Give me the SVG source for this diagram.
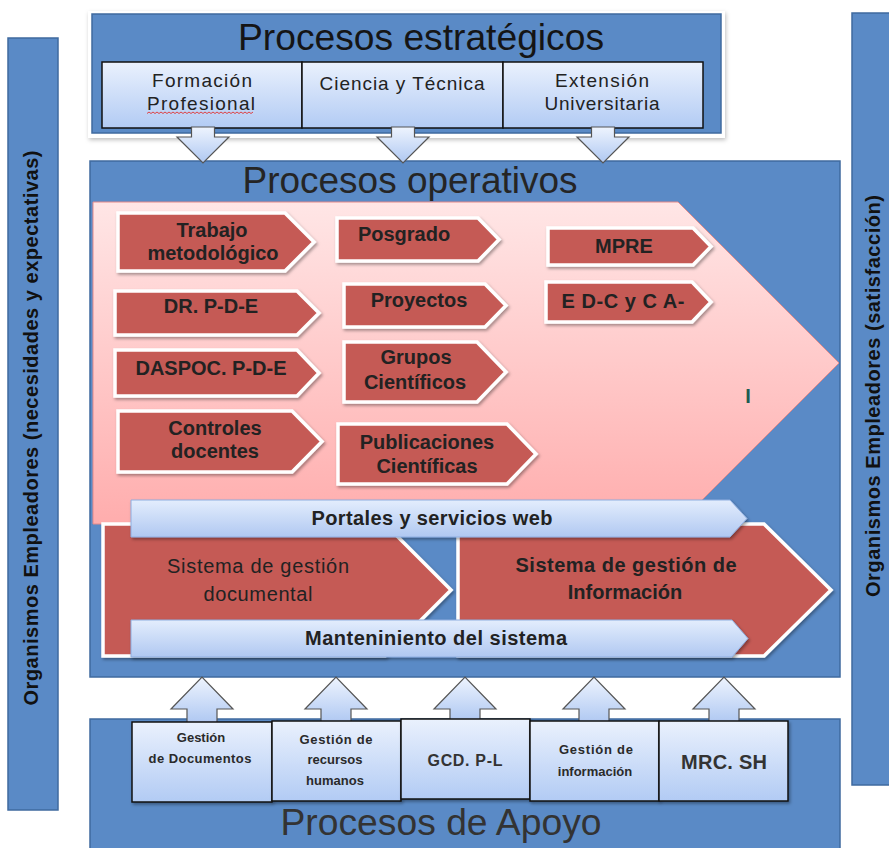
<svg xmlns="http://www.w3.org/2000/svg" width="889" height="848" viewBox="0 0 889 848">
<defs>
<linearGradient id="gBox" x1="0" y1="0" x2="0" y2="1"><stop offset="0" stop-color="#eaf1fd"/><stop offset="1" stop-color="#b2cbf4"/></linearGradient>
<linearGradient id="gArrow" x1="0" y1="0" x2="0" y2="1"><stop offset="0" stop-color="#eef4fe"/><stop offset="1" stop-color="#afc8f2"/></linearGradient>
<linearGradient id="gPink" x1="0" y1="0" x2="0" y2="1"><stop offset="0" stop-color="#ffe6e6"/><stop offset="1" stop-color="#ffadad"/></linearGradient>
<linearGradient id="gBar" x1="0" y1="0" x2="0" y2="1"><stop offset="0" stop-color="#e3edfd"/><stop offset="1" stop-color="#b0c8f1"/></linearGradient>
<filter id="sh" x="-10%" y="-10%" width="125%" height="135%"><feDropShadow dx="1.5" dy="2" stdDeviation="1.5" flood-color="#000" flood-opacity="0.35"/></filter>
<filter id="shL" x="-5%" y="-5%" width="112%" height="115%"><feDropShadow dx="1" dy="2" stdDeviation="2" flood-color="#000" flood-opacity="0.25"/></filter>
</defs>
<style>
.blue{fill:#5a8ac6;stroke:#3f6a9f;stroke-width:1.5}
.sub{fill:url(#gBox);stroke:#111;stroke-width:1.5}
.arr{fill:url(#gArrow);stroke:#555;stroke-width:1.2}
.chev{fill:#c55a55;stroke:#fff;stroke-width:3.5;filter:url(#sh)}
.bar{fill:url(#gBar);stroke:#8eaee0;stroke-width:1;filter:url(#sh)}
.t{font-family:"Liberation Sans",Arial,sans-serif;text-anchor:middle;fill:#222}
.title{font-size:37px;fill:#151515}
.b{font-weight:bold}
.c20{font-size:20px}
.c19{font-size:19px}
.s13{font-size:13px;font-weight:bold;fill:#2a2a2a}
.side{font-size:20px;font-weight:bold;fill:#111}
</style>

<g id="left-bar">
<rect class="blue" x="8" y="38" width="50" height="772"/>
<text class="t side" transform="translate(38,428) rotate(-90)" textLength="555" lengthAdjust="spacing">Organismos Empleadores (necesidades y expectativas)</text>
</g>
<g id="right-bar">
<rect class="blue" x="852" y="13" width="45" height="772"/>
<text class="t side" transform="translate(880,396) rotate(-90)" textLength="402" lengthAdjust="spacing">Organismos Empleadores (satisfacción)</text>
</g>

<g id="estrategicos">
<rect x="88" y="11" width="637" height="127" fill="#fff" filter="url(#shL)"/>
<rect class="blue" x="92" y="14" width="629" height="119"/>
<text class="t title" x="421" y="50" textLength="366" lengthAdjust="spacingAndGlyphs">Procesos estratégicos</text>
</g>
<g id="formacion">
<rect class="sub" x="102" y="62" width="200" height="66"/>
<text class="t c19" x="202" y="87" textLength="100" lengthAdjust="spacing">Formación</text>
<text class="t c19" x="201" y="110" textLength="108" lengthAdjust="spacing">Profesional</text>
<path d="M147,113.5 l2,-1.5 l2,1.5 l2,-1.5 l2,1.5 l2,-1.5 l2,1.5 l2,-1.5 l2,1.5 l2,-1.5 l2,1.5 l2,-1.5 l2,1.5 l2,-1.5 l2,1.5 l2,-1.5 l2,1.5 l2,-1.5 l2,1.5 l2,-1.5 l2,1.5 l2,-1.5 l2,1.5 l2,-1.5 l2,1.5 l2,-1.5 l2,1.5 l2,-1.5 l2,1.5 l2,-1.5 l2,1.5 l2,-1.5 l2,1.5 l2,-1.5 l2,1.5 l2,-1.5 l2,1.5 l2,-1.5 l2,1.5 l2,-1.5 l2,1.5 l2,-1.5 l2,1.5 l2,-1.5 l2,1.5 l2,-1.5 l2,1.5 l2,-1.5 l2,1.5 l2,-1.5 l2,1.5 l2,-1.5 l2,1.5 l2,-1.5" fill="none" stroke="#e03030" stroke-width="0.9"/>
</g>
<g id="ciencia">
<rect class="sub" x="302" y="62" width="201" height="66"/>
<text class="t c19" x="402" y="90" textLength="165" lengthAdjust="spacing">Ciencia y Técnica</text>
</g>
<g id="extension">
<rect class="sub" x="503" y="62" width="200" height="66"/>
<text class="t c19" x="602" y="87" textLength="94" lengthAdjust="spacing">Extensión</text>
<text class="t c19" x="602" y="110" textLength="115" lengthAdjust="spacing">Universitaria</text>
</g>

<g id="operativos">
<rect class="blue" x="90" y="161" width="750" height="516"/>
<text class="t title" x="410" y="193" textLength="335" lengthAdjust="spacingAndGlyphs" style="fill:#252525">Procesos operativos</text>
<polygon points="93,202 678,202 839,363 678,524 93,524" fill="url(#gPink)" stroke="#e58a8a" stroke-width="1"/>
<text class="t b c20" x="748" y="403" style="fill:#1c5c52">I</text>
</g>

<g id="trabajo"><polygon class="chev" points="118,213 285,213 314,242 285,271 118,271"/>
<text class="t b c20" x="212" y="237">Trabajo</text><text class="t b c20" x="213" y="260">metodológico</text></g>
<g id="posgrado"><polygon class="chev" points="337,218 478,218 499,239.5 478,261 337,261"/>
<text class="t b c20" x="404" y="241">Posgrado</text></g>
<g id="dr"><polygon class="chev" points="115,291 297,291 319,313 297,335 115,335"/>
<text class="t b c20" x="211" y="313">DR. P-D-E</text></g>
<g id="proyectos"><polygon class="chev" points="344,284 485,284 506,305.5 485,327 344,327"/>
<text class="t b c20" x="419" y="307">Proyectos</text></g>
<g id="daspoc"><polygon class="chev" points="115,350 297,350 319,373 297,396 115,396"/>
<text class="t b c20" x="211" y="375">DASPOC. P-D-E</text></g>
<g id="grupos"><polygon class="chev" points="344,342 477,342 506,372 477,402 344,402"/>
<text class="t b c20" x="416" y="364">Grupos</text><text class="t b c20" x="415" y="389">Científicos</text></g>
<g id="controles"><polygon class="chev" points="118,411 292,411 322,441.5 292,472 118,472"/>
<text class="t b c20" x="215" y="435">Controles</text><text class="t b c20" x="215" y="458">docentes</text></g>
<g id="publicaciones"><polygon class="chev" points="338,424 507,424 536,454 507,484 338,484"/>
<text class="t b c20" x="427" y="449">Publicaciones</text><text class="t b c20" x="427" y="473">Científicas</text></g>
<g id="mpre"><polygon class="chev" points="548,228 693,228 711,246.5 693,265 548,265"/>
<text class="t b c20" x="624" y="253">MPRE</text></g>
<g id="edc"><polygon class="chev" points="546,282 692,282 711,302 692,322 546,322"/>
<text class="t b c20" x="623" y="308" textLength="123" lengthAdjust="spacing">E D-C y C A-</text></g>

<g id="sgd"><polygon class="chev" points="103,524 385,524 451,590 385,656 103,656"/>
<text class="t c20" x="258" y="573" textLength="182" lengthAdjust="spacing">Sistema de gestión</text>
<text class="t c20" x="258" y="601" textLength="109" lengthAdjust="spacing">documental</text></g>
<g id="sgi"><polygon class="chev" points="458,524 764,524 831,590 764,656 458,656"/>
<text class="t b c20" x="626" y="572" textLength="221" lengthAdjust="spacing">Sistema de gestión de</text>
<text class="t b c20" x="625" y="599">Información</text></g>

<g id="portales"><polygon class="bar" points="131,500 730,500 747,518.5 730,537 131,537"/>
<text class="t b c20" x="432" y="525" textLength="241" lengthAdjust="spacing">Portales y servicios web</text></g>
<g id="mantenimiento"><polygon class="bar" points="131,620 732,620 748,638.5 732,657 131,657"/>
<text class="t b c20" x="436" y="645" textLength="262" lengthAdjust="spacing">Manteniniento del sistema</text></g>

<g id="apoyo">
<rect class="blue" x="90" y="719" width="750" height="140"/>
<text class="t title" x="441" y="835" textLength="321" lengthAdjust="spacingAndGlyphs" style="fill:#333">Procesos de Apoyo</text>
</g>

<g id="connectors">
<polygon class="arr" points="191.5,127 214.5,127 214.5,137 229,137 203,163 177,137 191.5,137"/>
<polygon class="arr" points="391.5,127 414.5,127 414.5,137 429,137 403,163 377,137 391.5,137"/>
<polygon class="arr" points="591.5,127 614.5,127 614.5,137 629,137 603,163 577,137 591.5,137"/>
<polygon class="arr" points="187,723 187,709 171,709 202,677 233,709 217,709 217,723"/>
<polygon class="arr" points="321,723 321,709 305,709 336,677 367,709 351,709 351,723"/>
<polygon class="arr" points="450,721 450,709 434,709 465,677 496,709 480,709 480,721"/>
<polygon class="arr" points="579,723 579,709 563,709 594,677 625,709 609,709 609,723"/>
<polygon class="arr" points="709,723 709,709 693,709 724,677 755,709 739,709 739,723"/>
</g>

<g id="gestion-documentos"><rect class="sub" x="132" y="722" width="140" height="80" filter="url(#sh)"/>
<text class="t s13" x="201" y="742">Gestión</text><text class="t s13" x="200" y="763" textLength="103" lengthAdjust="spacing">de Documentos</text></g>
<g id="recursos-humanos"><rect class="sub" x="272" y="721" width="129" height="80" filter="url(#sh)"/>
<text class="t s13" x="336" y="744" textLength="73" lengthAdjust="spacing">Gestión de</text><text class="t s13" x="335" y="764">recursos</text><text class="t s13" x="335" y="785">humanos</text></g>
<g id="gcd"><rect class="sub" x="401" y="719" width="129" height="80" filter="url(#sh)"/>
<text class="t b" x="465" y="766" style="font-size:16px;fill:#333" textLength="75" lengthAdjust="spacing">GCD. P-L</text></g>
<g id="gestion-informacion"><rect class="sub" x="530" y="721" width="129" height="80" filter="url(#sh)"/>
<text class="t s13" x="596" y="754" textLength="74" lengthAdjust="spacing">Gestión de</text><text class="t s13" x="595" y="776">información</text></g>
<g id="mrc"><rect class="sub" x="659" y="721" width="129" height="80" filter="url(#sh)"/>
<text class="t b" x="724" y="769" style="font-size:20px;fill:#333" textLength="86" lengthAdjust="spacing">MRC. SH</text></g>
</svg>
